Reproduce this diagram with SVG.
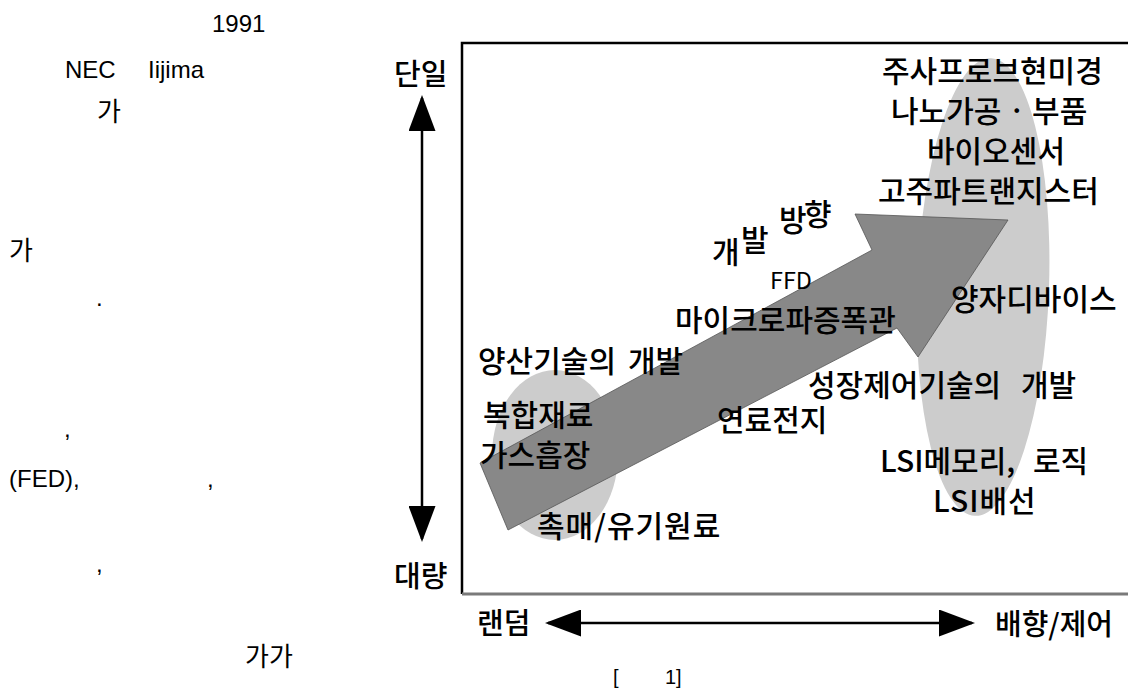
<svg xmlns="http://www.w3.org/2000/svg" width="1128" height="694" viewBox="0 0 1128 694">
<style>
.body{font-family:"Liberation Sans","Noto Sans CJK KR",sans-serif;font-size:24px;fill:#000}
.kr{font-family:"Noto Sans CJK KR","Liberation Sans",sans-serif;font-size:26px;fill:#000}
.lbl{font-family:"Noto Sans CJK KR","Liberation Sans",sans-serif;font-size:30px;font-weight:500;fill:#000}
.axis{font-family:"Noto Sans CJK KR","Liberation Sans",sans-serif;font-size:29px;font-weight:500;fill:#000}
.cap{font-family:"Liberation Sans",sans-serif;font-size:20px;fill:#000}
.blob{fill:#cccccc}
.axline{stroke:#000;stroke-width:2.5;fill:none}
</style>
<defs>
<marker id="ah" viewBox="0 0 36 27" refX="33" refY="13.5" markerWidth="36" markerHeight="27" markerUnits="userSpaceOnUse" orient="auto-start-reverse">
<path d="M0,0 L36,13.5 L0,27 z" fill="#000"/>
</marker>
</defs>
<rect width="1128" height="694" fill="#fff"/>

<g id="body-text">
<text class="body" x="212" y="32">1991</text>
<text class="body" x="65" y="78">NEC</text>
<text class="body" x="148" y="78">Iijima</text>
<text class="kr" x="97" y="121">가</text>
<text class="kr" x="9" y="260">가</text>
<text class="body" x="96" y="306">.</text>
<text class="body" x="64" y="437">,</text>
<text class="body" x="9" y="487">(FED),</text>
<text class="body" x="207" y="487">,</text>
<text class="body" x="96" y="572">,</text>
<text class="kr" x="245" y="666">가가</text>
<text class="cap" x="613" y="684">[</text>
<text class="cap" x="665" y="684">1]</text>
</g>

<g id="frame">
<path d="M462,594 L462,43 L1130,43" fill="none" stroke="#000" stroke-width="2.5"/>
<line x1="462" y1="594" x2="1130" y2="594" stroke="#7a7a7a" stroke-width="3"/>
</g>

<g id="regions">
<ellipse id="region-mass" class="blob" cx="555" cy="455" rx="63" ry="85"/>
<ellipse id="region-single" class="blob" cx="983" cy="287" rx="66" ry="229" transform="rotate(2 983 287)"/>
</g>

<g id="dev-arrow">
<polygon points="480,463 872,250 855,214 1008,220 918,357 897,328 508,530" fill="#888888" stroke="#555" stroke-width="0.8"/>
</g>

<g id="connectors">
<line class="axline" x1="422" y1="98" x2="422" y2="539" marker-start="url(#ah)" marker-end="url(#ah)"/>
<line class="axline" x1="548" y1="623" x2="972" y2="623" marker-start="url(#ah)" marker-end="url(#ah)"/>
</g>

<g id="axis-labels">
<text id="lbl-single" class="axis" x="394" y="85">단일</text>
<text id="lbl-mass" class="axis" x="394" y="587">대량</text>
<text id="lbl-random" class="axis" x="477" y="634">랜덤</text>
<text id="lbl-control" class="axis" x="995" y="635">배향/제어</text>
</g>

<g id="node-single">
<text class="lbl" x="882" y="82">주사프로브현미경</text>
<text class="lbl" x="891" y="122">나노가공 · 부품</text>
<text class="lbl" x="927" y="162">바이오센서</text>
<text class="lbl" x="878" y="202">고주파트랜지스터</text>
<text class="lbl" x="951" y="310">양자디바이스</text>
</g>

<g id="node-direction">
<text class="lbl"><tspan x="712" y="263">개</tspan><tspan x="741" y="251">발</tspan><tspan x="779" y="231">방</tspan><tspan x="804" y="225">향</tspan></text>
</g>

<g id="node-ffd">
<text class="lbl" x="770" y="289" textLength="42" lengthAdjust="spacingAndGlyphs" style="font-size:23px;font-weight:400">FFD</text>
<text class="lbl" x="675" y="331">마이크로파증폭관</text>
</g>

<g id="node-mass">
<text class="lbl" x="478" y="372">양산기술의<tspan x="628">개발</tspan></text>
<text class="lbl" x="483" y="426">복합재료</text>
<text class="lbl" x="480" y="466">가스흡장</text>
<text class="lbl" x="537" y="537" style="letter-spacing:1px">촉매/유기원료</text>
</g>

<g id="node-growth">
<text class="lbl" x="717" y="431">연료전지</text>
<text class="lbl" x="808" y="396">성장제어기술의<tspan x="1021">개발</tspan></text>
<text class="lbl" x="880" y="472">LSI메모리,<tspan x="1033">로직</tspan></text>
<text class="lbl" x="933" y="512" style="letter-spacing:1px">LSI배선</text>
</g>
</svg>
